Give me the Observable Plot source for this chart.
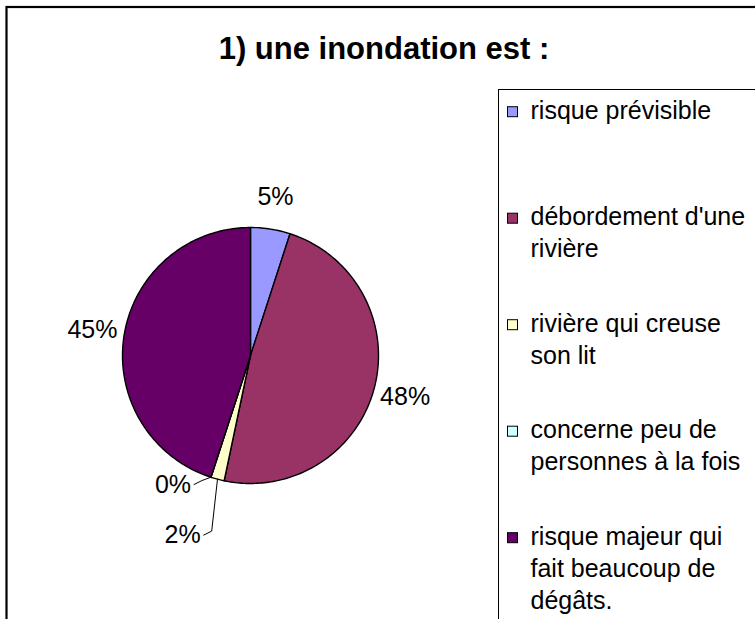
<!DOCTYPE html>
<html><head><meta charset="utf-8">
<script src="https://cdn.jsdelivr.net/npm/d3@7"></script>
<script src="https://cdn.jsdelivr.net/npm/@observablehq/plot@0.6"></script>
<style>html,body{margin:0;padding:0;background:#fff;overflow:hidden}</style>
</head><body><div id="chart"></div>
<script>
// ---- data ----
const title = "1) une inondation est :";
const categories = [
  "risque prévisible",
  "débordement d'une\nrivière",
  "rivière qui creuse\nson lit",
  "concerne peu de\npersonnes à la fois",
  "risque majeur qui\nfait beaucoup de\ndégâts."
];
const values = [5, 48.3, 1.7, 0, 45];
const colors = ["#9999FF", "#993366", "#FFFFCC", "#CCFFFF", "#660066"];

// ---- layout ----
const W = 755, H = 619;
const FONT = "'Liberation Sans', Arial, Helvetica, sans-serif";
const FS = 25;
const cx = 250, cy = 355, R = 128;
const labelDist = R + 32;
// crowded small slices: label pulled out with a leader line
const labelOverride = {2: {angle: 200.7, dist: 192}, 3: {angle: 211, dist: 150.5}};
const legendX = 498.5, legendY = 89.5, legendFirst = 111.7, legendPitch = 106.5, legendLH = 1.28;

const total = d3.sum(values);
const pct = values.map(v => Math.round(v / total * 100) + "%");
const rad = a => a * Math.PI / 180;
const px = (a, r) => cx + r * Math.sin(rad(a));
const py = (a, r) => cy - r * Math.cos(rad(a));

let acc = 0;
const slices = values.map((v, i) => {
  const a0 = acc / total * 360; acc += v; const a1 = acc / total * 360;
  return {i, cat: categories[i], a0, a1, mid: (a0 + a1) / 2, label: pct[i]};
});

const polys = slices.flatMap(s => {
  const pts = [{cat: s.cat, x: cx, y: cy}];
  const n = Math.max(1, Math.ceil(s.a1 - s.a0));
  for (let k = 0; k <= n; k++) {
    const a = s.a0 + (s.a1 - s.a0) * k / n;
    pts.push({cat: s.cat, x: px(a, R), y: py(a, R)});
  }
  pts.push({cat: s.cat, x: cx, y: cy});
  return pts;
});

const ctx = document.createElement("canvas").getContext("2d");
ctx.font = `${FS}px 'Liberation Sans', Arial`;

const labels = slices.map(s => {
  const o = labelOverride[s.i];
  const a = o ? o.angle : s.mid, d = o ? o.dist : labelDist;
  return {i: s.i, text: s.label, x: px(a, d), y: py(a, d), mid: s.mid, leader: !!o};
});
const leaders = labels.filter(l => l.leader).flatMap(l => {
  const right = l.x + ctx.measureText(l.text).width / 2;
  return [
    {i: l.i, x: px(l.mid, R), y: py(l.mid, R)},
    {i: l.i, x: right + 11, y: l.y - 4},
    {i: l.i, x: right + 3, y: l.y}
  ];
});

const legend = categories.map((c, i) => {
  const yc = legendFirst + i * legendPitch;
  return {cat: c, yc, ytop: yc + 0.27 * FS - 0.71 * legendLH * FS};
});

const chart = Plot.plot({
  width: W, height: H, margin: 0,
  x: {domain: [0, W], range: [0, W], axis: null},
  y: {domain: [0, H], range: [0, H], axis: null},
  color: {domain: categories, range: colors},
  style: {fontFamily: FONT, background: "white", color: "black"},
  marks: [
    Plot.frame({stroke: "black", strokeWidth: 2.2, insetLeft: 6, insetTop: 6.5, insetRight: -20, insetBottom: -20}),
    Plot.rect([{}], {x1: () => legendX, x2: () => W + 50, y1: () => legendY, y2: () => H + 50, fill: "none", stroke: "black", strokeWidth: 1}),
    Plot.line(polys, {x: "x", y: "y", z: "cat", fill: "cat", stroke: "black", strokeWidth: 1.4, strokeLinejoin: "round", curve: "linear"}),
    Plot.line(leaders, {x: "x", y: "y", z: "i", stroke: "black", strokeWidth: 1, curve: "linear"}),
    Plot.text(labels, {x: "x", y: "y", text: "text", fontSize: FS, textAnchor: "middle", lineAnchor: "middle", fill: "black"}),
    Plot.rect(legend, {x1: () => 507.5, x2: () => 517.5, y1: d => d.yc - 5, y2: d => d.yc + 5, fill: "cat", stroke: "black", strokeWidth: 1}),
    Plot.text(legend, {x: () => 530, y: "ytop", text: "cat", fontSize: FS, textAnchor: "start", lineAnchor: "top", lineHeight: legendLH, fill: "black"}),
    Plot.text([title], {x: () => 383.5, y: () => 58.5, text: d => d, fontSize: 31, fontWeight: "bold", textAnchor: "middle", lineAnchor: "bottom", fill: "black"})
  ]
});
document.getElementById("chart").appendChild(chart);
</script>
</body></html>
